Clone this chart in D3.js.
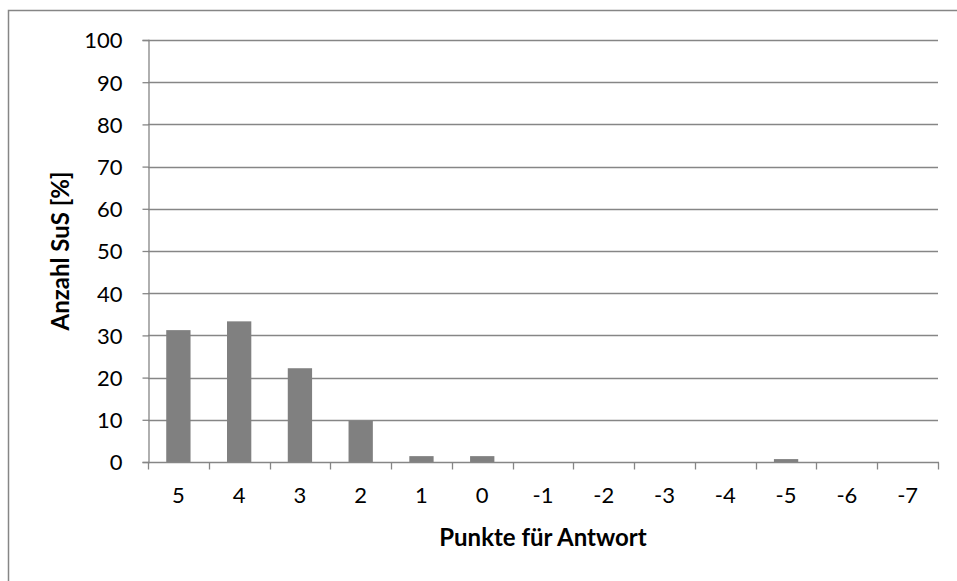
<!DOCTYPE html>
<html><head><meta charset="utf-8">
<script src="https://cdn.jsdelivr.net/npm/d3@7"></script>
<style>
body{margin:0;background:#fff;}
svg{display:block;font-family:Lato, "Open Sans", sans-serif;}
</style></head>
<body><svg id="c" width="957" height="581"></svg>
<script>
const categories = ["5","4","3","2","1","0","-1","-2","-3","-4","-5","-6","-7"];
const values = [31.25,33.33,22.22,9.72,1.39,1.39,0,0,0,0,0.69,0,0];
const yTicks = [0,10,20,30,40,50,60,70,80,90,100];
const xTitle = "Punkte für Antwort";
const yTitle = "Anzahl SuS [%]";

const svg = d3.select("#c");
const W = 957, H = 581;
const m = {left:148, right:938, top:40, bottom:462};
const grey = "#868686";

// chart border (left + top)
svg.append("path").attr("d", `M8.5,${H} L8.5,10.5 L${W},10.5`).attr("fill","none").attr("stroke",grey).attr("stroke-width",1.5);

const x = d3.scaleBand().domain(categories).range([m.left, m.right]).paddingInner(0.6).paddingOuter(0.3);
const xb = d3.scaleBand().domain(categories).range([m.left, m.right]);
const y = d3.scaleLinear().domain([0,100]).range([m.bottom, m.top]);

// gridlines
svg.append("g").selectAll("line").data(yTicks.filter(d=>d>0)).join("line")
  .attr("x1", m.left).attr("x2", m.right)
  .attr("y1", d=>Math.round(y(d))+0.5).attr("y2", d=>Math.round(y(d))+0.5)
  .attr("stroke", grey).attr("stroke-width",1.3);

// bars
svg.append("g").selectAll("rect").data(values).join("rect")
  .attr("x", (d,i)=>x(categories[i])).attr("width", x.bandwidth())
  .attr("y", d=>y(d)).attr("height", d=>y(0)-y(d))
  .attr("fill", "#808080");

// y axis
const yAxis = d3.axisLeft(y).tickValues(yTicks).tickSize(6).tickPadding(20);
const gy = svg.append("g").attr("transform", `translate(${m.left+0.5},0)`).call(yAxis);
gy.select(".domain").attr("stroke", grey).attr("stroke-width",1.3);
gy.selectAll(".tick line").attr("stroke", grey).attr("stroke-width",1.3);
gy.selectAll(".tick text").attr("font-size", 22).attr("fill","#000").attr("font-family","Lato").attr("dy","0.36em");

// x axis
const xAxis = d3.axisBottom(xb).tickSize(0).tickPadding(25);
const gx = svg.append("g").attr("transform", `translate(0,${m.bottom+0.5})`).call(xAxis);
gx.select(".domain").remove();
gx.append("line").attr("x1", m.left).attr("x2", m.right+1).attr("stroke", grey).attr("stroke-width",1.3);
gx.selectAll(".tick text").attr("font-size", 22).attr("fill","#000").attr("font-family","Lato");
// x tick marks at band boundaries
const bounds = categories.map(c=>xb(c)).concat([m.right]);
gx.append("g").selectAll("line").data(bounds).join("line")
  .attr("x1", d=>Math.round(d)+0.5).attr("x2", d=>Math.round(d)+0.5).attr("y1",0).attr("y2",7)
  .attr("stroke", grey).attr("stroke-width",1.3);

// titles
svg.append("text").attr("x", (m.left+m.right)/2).attr("y", 546).attr("text-anchor","middle")
  .attr("font-size", 24).attr("font-weight","bold").attr("fill","#000").text(xTitle);
svg.append("text").attr("transform", `translate(69,251) rotate(-90)`).attr("text-anchor","middle")
  .attr("font-size", 24).attr("font-weight","bold").attr("fill","#000").text(yTitle);
</script></body></html>
